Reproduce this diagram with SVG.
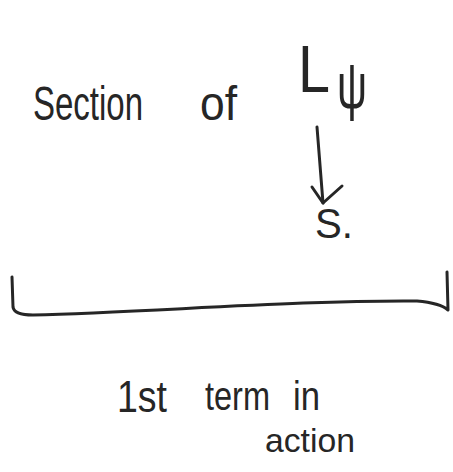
<svg xmlns="http://www.w3.org/2000/svg" width="453" height="472" viewBox="0 0 453 472">
<style>
.t{font-family:"Liberation Sans","Noto Sans",sans-serif;fill:#262626;}
.ink{fill:none;stroke:#262626;stroke-width:3;stroke-linecap:round;stroke-linejoin:round;}
</style>
<rect width="453" height="472" fill="#ffffff"/>
<g id="section-of-Lpsi">
<text class="t" x="33" y="120" font-size="48" textLength="110" lengthAdjust="spacingAndGlyphs">Section</text>
<text class="t" x="200" y="120" font-size="48" textLength="37" lengthAdjust="spacingAndGlyphs">of</text>
<text class="t" x="298" y="92" font-size="66" textLength="32" lengthAdjust="spacingAndGlyphs">L</text>
<text class="t" x="337" y="108" font-size="64" textLength="30" lengthAdjust="spacingAndGlyphs">ψ</text>
</g>
<g id="S-node">
<text class="t" x="315" y="238" font-size="42" textLength="38" lengthAdjust="spacingAndGlyphs">S.</text>
</g>
<g id="connectors">
<path class="ink" d="M317 127 L323 203"/>
<path class="ink" d="M312 187 L323 203 L342 186"/>
</g>
<g id="bracket">
<path class="ink" d="M12 277 L13 307 Q14 315 33 315 C150 312 300 300 417 301 Q440 303 448 310 L447 272"/>
</g>
<g id="first-term-in-action">
<text class="t" x="117" y="412" font-size="44" textLength="50" lengthAdjust="spacingAndGlyphs">1st</text>
<text class="t" x="205" y="410" font-size="40" textLength="65" lengthAdjust="spacingAndGlyphs">term</text>
<text class="t" x="293" y="410" font-size="40" textLength="27" lengthAdjust="spacingAndGlyphs">in</text>
<text class="t" x="265" y="452" font-size="34" textLength="90" lengthAdjust="spacingAndGlyphs">action</text>
</g>
</svg>
